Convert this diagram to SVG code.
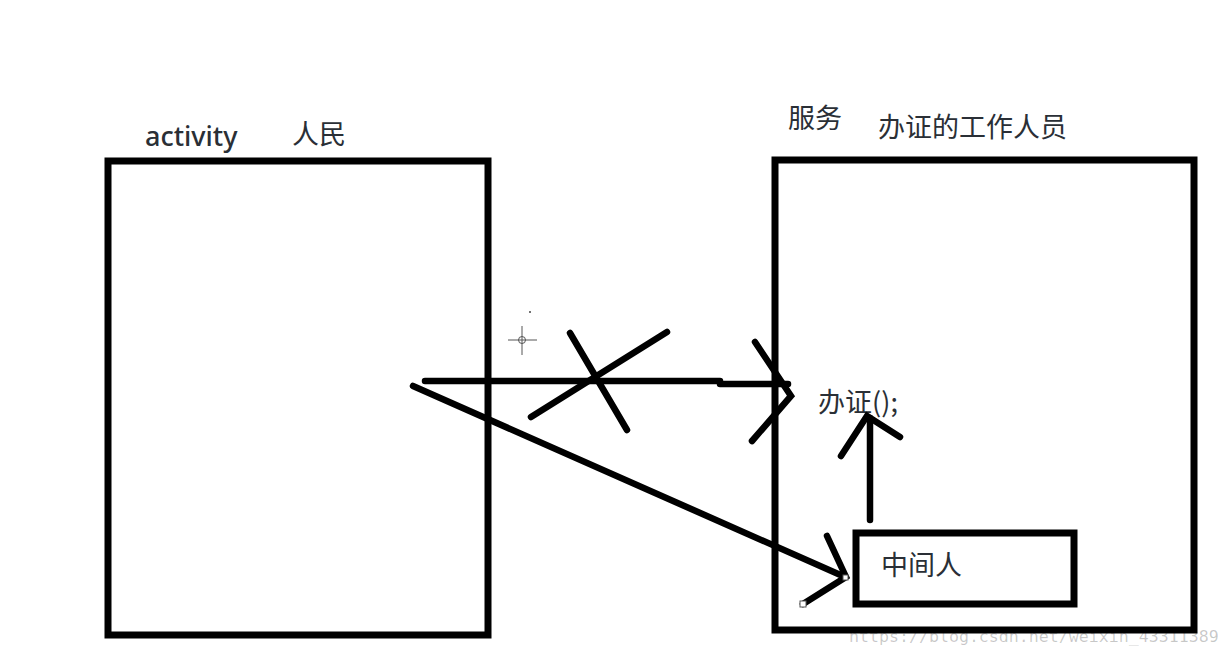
<svg xmlns="http://www.w3.org/2000/svg" width="1230" height="657" viewBox="0 0 1230 657">
<style>
.box{fill:none;stroke:#000;stroke-width:7}
.ln{fill:none;stroke:#000;stroke-width:6.5;stroke-linecap:round;stroke-linejoin:miter}
.t{font-family:"Noto Sans CJK SC","Noto Sans",sans-serif;fill:#2a2f36;font-size:27px}
.h{fill:#fff;stroke:#555;stroke-width:1}
.cur{fill:none;stroke:#555;stroke-width:1}
.wm{font-family:"DejaVu Sans Mono","Liberation Mono",monospace;font-size:16.6px;fill:#000;fill-opacity:.22}
</style>
<rect width="1230" height="657" fill="#fff"/>
<g id="activity-box"><rect class="box" x="108" y="161" width="380" height="474"/>
<text class="t" x="145" y="146" style="font-family:'Noto Sans',sans-serif;font-weight:500">activity</text>
<text class="t" x="292" y="144">人民</text></g>
<g id="service-box"><rect class="box" x="775" y="160" width="419" height="470"/>
<text class="t" x="788" y="128">服务</text>
<text class="t" x="878" y="137">办证的工作人员</text>
<text class="t" x="818" y="412" textLength="80">办证();</text></g>
<g id="middleman"><rect class="box" x="856" y="533" width="218" height="71"/>
<text class="t" x="881" y="575">中间人</text></g>
<g id="connectors">
<path class="ln" d="M425 381H720"/>
<path class="ln" d="M720 384H788"/>
<path class="ln" d="M755 342L791 396L752 441"/>
<path class="ln" d="M531 417L667 332"/>
<path class="ln" d="M570 333L627 430"/>
<path class="ln" d="M413 386L845 577"/>
<path class="ln" d="M827 536L846 577L803 604"/>
<path class="ln" d="M870 520V418"/>
<path class="ln" d="M841 456L867 416L900 437"/>
<rect class="h" x="843" y="575" width="5" height="5"/>
<rect class="h" x="800" y="601" width="6" height="6"/>
</g>
<g id="cursor"><path class="cur" d="M508 340H537M522 326V355"/><circle class="cur" cx="522" cy="340" r="3.5"/><circle cx="530" cy="312" r="1" fill="#444"/></g>
<text class="wm" x="849" y="642">https://blog.csdn.net/weixin_43311389</text>
</svg>
